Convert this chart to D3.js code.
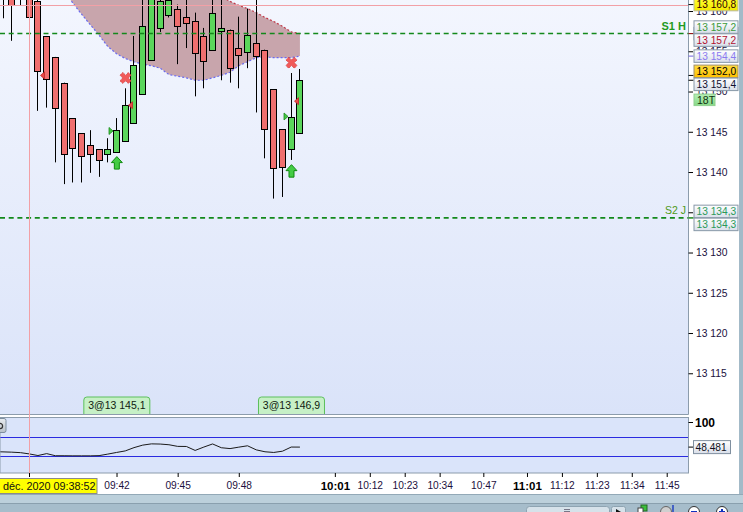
<!DOCTYPE html>
<html><head><meta charset="utf-8">
<script src="https://cdn.jsdelivr.net/npm/d3@7/dist/d3.min.js"></script>
<style>html,body{margin:0;padding:0;background:#fff;overflow:hidden}svg{display:block}</style>
</head><body>
<svg id="c" width="743" height="512"></svg>
<script>
// ---------------- DATA ----------------
const opens  = [13166.0,13164.0,13162.5,13163.0,13161.2,13156.9,13154.3,13151.1,13146.7,13144.8,13143.4,13142.8,13142.2,13142.5,13143.8,13146.1,13149.7,13153.9,13157.9,13159.5,13160.3,13159.2,13158.8,13156.9,13155.2,13157.5,13157.7,13155.4,13154.9,13156.0,13155.2,13150.3,13145.3,13142.9,13144.8];
const highs  = [13168.0,13165.5,13166.0,13164.0,13162.0,13156.9,13154.3,13151.1,13146.7,13144.8,13145.2,13142.8,13144.2,13146.7,13150.4,13156.9,13161.8,13163.5,13162.0,13162.5,13160.8,13162.0,13159.8,13157.9,13162.0,13162.0,13157.7,13159.3,13160.3,13162.0,13155.2,13150.3,13145.3,13152.3,13152.8];
const lows   = [13159.1,13156.3,13160.7,13155.7,13147.6,13148.0,13141.2,13138.5,13138.7,13138.7,13139.9,13139.4,13141.2,13142.5,13143.8,13146.1,13149.7,13153.9,13157.4,13159.2,13153.4,13155.4,13149.4,13150.4,13155.2,13151.4,13151.1,13150.4,13152.9,13147.4,13141.7,13136.7,13136.9,13141.5,13144.8];
const closes = [13163.0,13160.7,13164.5,13159.2,13152.5,13151.6,13147.9,13142.2,13143.0,13142.0,13142.3,13141.5,13142.8,13145.2,13148.3,13153.3,13158.1,13162.2,13161.2,13161.4,13158.1,13158.5,13154.8,13153.8,13159.7,13157.9,13152.9,13154.5,13157.0,13154.4,13145.3,13140.5,13140.6,13146.8,13151.4];

// cloud (from candle index 7 to 34)
const cloudStart = 7;
const cloudUpper = [13171.0,13170.5,13170.0,13169.5,13169.0,13168.5,13168.0,13167.6,13167.2,13166.8,13166.4,13165.9,13165.3,13164.7,13164.1,13163.5,13162.9,13162.3,13161.8,13161.2,13160.7,13160.3,13159.8,13159.2,13158.7,13158.1,13157.4,13157.2];
const cloudLower = [13162.4,13161.0,13159.6,13158.3,13157.0,13155.6,13154.7,13154.1,13153.7,13153.4,13153.2,13152.9,13152.1,13151.9,13151.7,13151.4,13151.4,13151.7,13152.0,13152.4,13153.2,13153.7,13154.2,13154.3,13154.2,13154.2,13154.2,13154.4];

// oscillator (from candle index -1 to 34)
const oscStart = -1;
const oscValues = [39.0,38.6,38.0,37.0,34.4,31.0,35.0,30.6,30.6,30.4,30.4,30.4,30.8,34.0,37.4,40.6,47.4,52.6,55.2,54.8,53.4,50.0,49.8,41.6,48.6,55.0,47.2,45.4,48.4,51.2,42.8,38.8,37.4,40.0,48.6,48.481];
const oscLevels = [70, 30];
const oscTop = 100;

// price axis ticks
const priceTicks = [13115,13120,13125,13130,13135,13140,13145,13150,13155,13160];

// time axis
const timeLabels = ["09:42","09:45","09:48","10:01","10:12","10:23","10:34","10:47","11:01","11:12","11:23","11:34","11:45"];
const timeSlots  = [13,20,27,38,42,46,50,55,60,64,68,72,76];
const timeBold   = ["10:01","11:01"];
const cursorSlot = 3;
const cursorText = "déc. 2020 09:38:52";
const currentPrice = 13160.8;

// support / resistance
const levelNames  = ["S1 H","S2 J"];
const levelPrices = [13157.2, 13134.3];

// right-side price labels
const labelPrices = [13160.8, 13157.2, 13157.2, 13157.2, 13154.4, 13152.0, 13151.4, 13134.3, 13134.3];
const labelKinds  = ["yellow","s1","plain","red","purple","orange","last","s2","s2"];
const timerText = "18T";

// trades
const buyIdx = [13, 33], buyPrices = [13145.1, 13146.9], buyQty = [3, 3];
const sellIdx = [4, 14, 33], sellPrices = [13152.0, 13148.3, 13148.8];
const arrowUpIdx = [13, 33];
const crossIdx = [14, 33];

// ---------------- LAYOUT ----------------
const W = 743, H = 512;
const plotR = 688.5, mainB = 414.5, indT = 417.5, indB = 473, axisB = 494, scrollX = 739;
const FONT = "'Liberation Sans', Arial, sans-serif";

const svg = d3.select('#c');
const defs = svg.append('defs');
function vgrad(id, a, b){
  const g = defs.append('linearGradient').attr('id', id).attr('x1',0).attr('y1',0).attr('x2',0).attr('y2',1);
  g.append('stop').attr('offset','0%').attr('stop-color',a);
  g.append('stop').attr('offset','100%').attr('stop-color',b);
}
vgrad('bgMain', '#f3f6fe', '#dae3f9');
vgrad('boxG', '#ffffff', '#d9dfea');
vgrad('yelG', '#ffff30', '#f4e800');
vgrad('oraG', '#ffdc40', '#ffc000');
vgrad('grnG', '#b6f0b6', '#86d886');
vgrad('btnG', '#e8ecf0', '#b8c0c8');
defs.append('clipPath').attr('id','clipMain').append('rect').attr('x',0).attr('y',0).attr('width',plotR).attr('height',mainB);
defs.append('clipPath').attr('id','clipInd').append('rect').attr('x',0).attr('y',indT).attr('width',plotR).attr('height',indB-indT);

const x = d3.scaleLinear().domain([0, 78]).range([3.0, 3.0 + 78*8.733]);
const y = d3.scaleLinear().domain([13109.94, 13161.37]).range([414, 0]);
const yi = d3.scaleLinear().domain([0, 100]).range([470.5, 422.25]);
const px = i => Math.floor(x(i)) + 0.5;

const loc = d3.formatLocale({decimal: ",", thousands: "\u00a0", grouping: [3]});
const fmt1 = loc.format(",.1f");
const fmt0 = loc.format(",.0f");
const fmt3 = loc.format(".3f");

// backgrounds
svg.append('rect').attr('width',W).attr('height',H).attr('fill','#ffffff');
svg.append('rect').attr('x',0).attr('y',0).attr('width',plotR).attr('height',mainB).attr('fill','url(#bgMain)');
svg.append('rect').attr('x',0).attr('y',indT).attr('width',plotR).attr('height',indB-indT).attr('fill','#dae4fa');

// ---------------- MAIN PANEL ----------------
const main = svg.append('g').attr('clip-path','url(#clipMain)');

// cloud
const cloudData = cloudUpper.map((u,k)=>({i: cloudStart+k, u, l: cloudLower[k]}));
main.append('path').datum(cloudData)
  .attr('d', d3.area().x(d=>x(d.i)).y0(d=>y(d.l)).y1(d=>y(d.u)))
  .attr('fill','#c8a5ac');
main.append('path').datum(cloudData)
  .attr('d', d3.line().x(d=>x(d.i)).y(d=>y(d.u)))
  .attr('fill','none').attr('stroke','#c03848').attr('stroke-width',1.2).attr('stroke-dasharray','2,2');
main.append('path').datum(cloudData)
  .attr('d', d3.line().x(d=>x(d.i)).y(d=>y(d.l)))
  .attr('fill','none').attr('stroke','#6a6af0').attr('stroke-width',1.2).attr('stroke-dasharray','2,2');

// candles
const candles = opens.map((o,i)=>({i, o, h: highs[i], l: lows[i], c: closes[i]}));
const cg = main.append('g');
cg.selectAll('line.w').data(candles).join('line')
  .attr('x1', d=>px(d.i)).attr('x2', d=>px(d.i))
  .attr('y1', d=>y(d.h)).attr('y2', d=>y(d.l))
  .attr('stroke','#000').attr('stroke-width',1);
cg.selectAll('rect.b').data(candles).join('rect')
  .attr('x', d=>px(d.i)-3).attr('width',6)
  .attr('y', d=>Math.round(y(Math.max(d.o,d.c)))+0.5)
  .attr('height', d=>Math.max(1, Math.round(y(Math.min(d.o,d.c))) - Math.round(y(Math.max(d.o,d.c)))))
  .attr('fill', d=> d.c >= d.o ? '#5bd65b' : '#ef6f6f')
  .attr('stroke','#000').attr('stroke-width',1);

// current price line
main.append('line').attr('x1',0).attr('x2',plotR).attr('y1',Math.round(y(currentPrice))+0.5).attr('y2',Math.round(y(currentPrice))+0.5)
  .attr('stroke','#f2a0a6').attr('stroke-width',1);

// support/resistance dashed lines
levelPrices.forEach((p,k)=>{
  main.append('line').attr('x1',0).attr('x2',plotR).attr('y1',y(p)).attr('y2',y(p))
    .attr('stroke','#13891b').attr('stroke-width',1.6).attr('stroke-dasharray','5,3.7');
  svg.append('text').attr('x',686).attr('y',y(p)-3.5).attr('text-anchor','end')
    .attr('font-family',FONT).attr('font-size', k===0 ? '11px' : '10.5px').attr('font-weight', k===0 ? 'bold' : 'normal')
    .attr('fill', k===0 ? '#1f9a1f' : '#4f9a18').text(levelNames[k]);
});

// trade triangles
buyIdx.forEach((i,k)=>{
  const cx = px(i), cy = y(buyPrices[k]);
  main.append('path').attr('d',`M${cx-3.5},${cy} L${cx-7.5},${cy-3.5} L${cx-7.5},${cy+3.5} Z`)
    .attr('fill','#44c844').attr('stroke','#1a8a1a').attr('stroke-width',0.8);
});
sellIdx.forEach((i,k)=>{
  const cx = px(i), cy = y(sellPrices[k]);
  main.append('path').attr('d',`M${cx+3},${cy} L${cx+7},${cy-3.5} L${cx+7},${cy+3.5} Z`)
    .attr('fill','#e84848').attr('stroke','#c02828').attr('stroke-width',0.8);
});

// red crosses above highs
crossIdx.forEach(i=>{
  main.append('path').attr('d', d3.symbol(d3.symbolCross, 78)())
    .attr('transform',`translate(${x(i)+0.3},${y(highs[i])-10.3}) rotate(45)`)
    .attr('fill','#f05a5a').attr('stroke','#d23a3a').attr('stroke-width',0.8).attr('stroke-dasharray','1.2,0.8');
});

// green arrows below lows
arrowUpIdx.forEach(i=>{
  const cx = x(i)+0.3, t = y(lows[i]) + 4.7;
  main.append('path')
    .attr('d',`M${cx},${t} L${cx+5.5},${t+6} L${cx+2.5},${t+6} L${cx+2.5},${t+12.5} L${cx-2.5},${t+12.5} L${cx-2.5},${t+6} L${cx-5.5},${t+6} Z`)
    .attr('fill','#44cc44').attr('stroke','#0f8a0f').attr('stroke-width',1);
});

// fill labels at the bottom of the main panel
buyIdx.forEach((i,k)=>{
  const cx = x(i)+0.3, w = 66, top = 397, bot = mainB;
  main.append('path')
    .attr('d',`M${cx-w/2},${bot} L${cx-w/2},${top+3} Q${cx-w/2},${top} ${cx-w/2+3},${top} L${cx+w/2-3},${top} Q${cx+w/2},${top} ${cx+w/2},${top+3} L${cx+w/2},${bot}`)
    .attr('fill','#c6f0c6').attr('stroke','#5cbf5c').attr('stroke-width',1);
  main.append('text').attr('x',cx).attr('y',top+12).attr('text-anchor','middle')
    .attr('font-family',FONT).attr('font-size','10.5px').attr('fill','#102010')
    .text(buyQty[k] + '@' + fmt1(buyPrices[k]));
});

// main panel borders
svg.append('line').attr('x1',0).attr('x2',plotR).attr('y1',mainB).attr('y2',mainB).attr('stroke','#8c9cac');
svg.append('line').attr('x1',plotR).attr('x2',plotR).attr('y1',0).attr('y2',mainB).attr('stroke','#8c9cac');

// ---------------- INDICATOR PANEL ----------------
const ind = svg.append('g').attr('clip-path','url(#clipInd)');
oscLevels.forEach(v=>{
  ind.append('line').attr('x1',0).attr('x2',plotR).attr('y1',Math.round(yi(v))+0.5).attr('y2',Math.round(yi(v))+0.5)
    .attr('stroke','#2a2ae0').attr('stroke-width',1);
});
ind.append('path').datum(oscValues.map((v,k)=>({i: oscStart+k, v})))
  .attr('d', d3.line().x(d=>x(d.i)).y(d=>yi(d.v)))
  .attr('fill','none').attr('stroke','#1a1a1a').attr('stroke-width',1);
svg.append('rect').attr('x',0).attr('y',indT).attr('width',plotR).attr('height',indB-indT)
  .attr('fill','none').attr('stroke','#8c9cac');
// small button (icon)
svg.append('rect').attr('x',-8).attr('y',418.5).attr('width',14).attr('height',14).attr('rx',2)
  .attr('fill','url(#btnG)').attr('stroke','#7f8f9f');
svg.append('circle').attr('cx',0).attr('cy',426).attr('r',2.6).attr('fill','none').attr('stroke','#333').attr('stroke-width',1.2);

// indicator axis
svg.append('line').attr('x1',plotR).attr('x2',plotR+4.5).attr('y1',Math.round(yi(oscTop))+0.5).attr('y2',Math.round(yi(oscTop))+0.5).attr('stroke','#000');
svg.append('text').attr('x',695).attr('y',yi(oscTop)+4.5).attr('font-family',FONT).attr('font-size','12px')
  .attr('font-weight','bold').attr('fill','#000').text(String(oscTop));
const lastOsc = oscValues[oscValues.length-1];
svg.append('line').attr('x1',plotR).attr('x2',plotR+4.5).attr('y1',yi(lastOsc)).attr('y2',yi(lastOsc)).attr('stroke','#000');
svg.append('rect').attr('x',693.5).attr('y',yi(lastOsc)-6.5).attr('width',37).attr('height',13)
  .attr('fill','url(#boxG)').attr('stroke','#7f8f9f');
svg.append('text').attr('x',695.5).attr('y',yi(lastOsc)+3.7).attr('font-family',FONT).attr('font-size','10.2px')
  .attr('fill','#101020').text(fmt3(lastOsc));

// ---------------- RIGHT LABEL LAYOUT ----------------
const kindStyle = {
  yellow: {fill:'url(#yelG)', stroke:'#b8b8a0', text:'#300000', tick:'#000'},
  s1:     {fill:'url(#boxG)', stroke:'#8898a8', text:'#3a9a3a', tick:'#1a8a1a'},
  plain:  {fill:'url(#boxG)', stroke:'#8898a8', text:'#3a9a3a', tick:'#1a8a1a'},
  red:    {fill:'url(#boxG)', stroke:'#8898a8', text:'#b01030', tick:'#a01020'},
  purple: {fill:'url(#boxG)', stroke:'#8898a8', text:'#8a7af0', tick:'#7060e0'},
  orange: {fill:'url(#oraG)', stroke:'#a09070', text:'#000000', tick:'#000'},
  last:   {fill:'url(#boxG)', stroke:'#8898a8', text:'#101030', tick:'#000'},
  s2:     {fill:'url(#boxG)', stroke:'#8898a8', text:'#2a9a5a', tick:'#1a8a1a'}
};
const labs = labelPrices.map((p,k)=>({p, kind: labelKinds[k], y0: y(p), y: y(p), k}));
const sorted = labs.filter(d=>d.kind!=='plain').sort((a,b)=> a.y0 - b.y0 || a.k - b.k);
const GAP = 13;
for (let it=0; it<200; it++){
  for (let j=0; j<sorted.length-1; j++){
    const a = sorted[j], b = sorted[j+1];
    const d = b.y - a.y;
    if (d < GAP){ const o = (GAP-d)/2; a.y -= o; b.y += o; }
  }
}
const BH = 12.5;

// ---------------- PRICE AXIS ----------------
// tick texts fully hidden behind a label box are not drawn
const covered = v => sorted.some(d => Math.abs(d.y - y(v)) < 4.5);
const ax = svg.append('g').attr('transform',`translate(${plotR},0)`)
  .call(d3.axisRight(y).tickValues(priceTicks).tickSize(4.5).tickPadding(3).tickFormat(d=>fmt0(d)));
ax.select('.domain').remove();
ax.selectAll('text').attr('font-family',FONT).attr('font-size','10.3px').attr('fill','#201040');
ax.selectAll('.tick').filter(d=>covered(d)).select('text').remove();
ax.selectAll('line').attr('stroke','#000');

labs.forEach(d=>{
  svg.append('line').attr('x1',plotR).attr('x2',plotR+5).attr('y1',d.y0).attr('y2',d.y0)
    .attr('stroke', kindStyle[d.kind].tick).attr('stroke-width',1);
});
const drawOrder = labs.slice().sort((a,b)=> (a.kind==='plain'?0:1) - (b.kind==='plain'?0:1) || a.k - b.k);
drawOrder.forEach(d=>{
  const s = kindStyle[d.kind];
  svg.append('rect').attr('x',694).attr('y',d.y-BH/2).attr('width',44).attr('height',BH)
    .attr('fill',s.fill).attr('stroke',s.stroke).attr('stroke-width',1);
  svg.append('text').attr('x',696.5).attr('y',d.y+3.7).attr('font-family',FONT).attr('font-size','10.2px')
    .attr('fill',s.text).text(fmt1(d.p));
});
// timer box under last price label
const lastLab = labs.find(d=>d.kind==='last');
svg.append('rect').attr('x',694).attr('y',lastLab.y+BH/2+3.5).attr('width',21).attr('height',11.5)
  .attr('fill','url(#grnG)').attr('stroke','#90d090');
svg.append('text').attr('x',697).attr('y',lastLab.y+BH/2+13.2).attr('font-family',FONT).attr('font-size','10.5px')
  .attr('fill','#103010').text(timerText);

// ---------------- TIME AXIS ----------------
const tx = svg.append('g').attr('transform',`translate(0,${indB})`)
  .call(d3.axisBottom(x).tickValues(timeSlots).tickSize(4).tickPadding(5).tickFormat((d,k)=>timeLabels[k]));
tx.select('.domain').remove();
tx.selectAll('line').attr('stroke','#000');
tx.selectAll('text').attr('font-family',FONT)
  .attr('font-size', (d,k)=> timeBold.includes(timeLabels[k]) ? '11.5px' : '10.2px')
  .attr('font-weight', (d,k)=> timeBold.includes(timeLabels[k]) ? 'bold' : 'normal')
  .attr('fill', (d,k)=> timeBold.includes(timeLabels[k]) ? '#000' : '#1c1040');

// cursor
const cx0 = px(cursorSlot);
svg.append('line').attr('x1',cx0).attr('x2',cx0).attr('y1',0).attr('y2',indB).attr('stroke','#f2a0a6').attr('stroke-width',1);
svg.append('line').attr('x1',cx0).attr('x2',cx0).attr('y1',indB).attr('y2',indB+4).attr('stroke','#000');
svg.append('rect').attr('x',-5).attr('y',478.5).attr('width',102).attr('height',15).attr('fill','#ffff00').attr('stroke','#8a8a8a');
svg.append('text').attr('x',3).attr('y',490).attr('font-family',FONT).attr('font-size','10.8px').attr('fill','#101010').text(cursorText);

// ---------------- CHROME ----------------
svg.append('rect').attr('x',scrollX).attr('y',0).attr('width',W-scrollX).attr('height',axisB).attr('fill','#a3bac8');
svg.append('rect').attr('x',0).attr('y',axisB).attr('width',W).attr('height',9).attr('fill','#bcd0db');
svg.append('rect').attr('x',0).attr('y',axisB+9).attr('width',W).attr('height',H-axisB-9).attr('fill','#a6bdcb');
svg.append('line').attr('x1',0).attr('x2',W).attr('y1',axisB+0.5).attr('y2',axisB+0.5).attr('stroke','#93a9b7');
svg.append('line').attr('x1',0).attr('x2',W).attr('y1',axisB+9.5).attr('y2',axisB+9.5).attr('stroke','#8aa0ae');
// bottom controls
svg.append('rect').attr('x',526.5).attr('y',506.5).attr('width',83).attr('height',10).attr('rx',3).attr('fill','#d6e2ea').attr('stroke','#8ea4b2');
svg.append('line').attr('x1',564).attr('x2',570).attr('y1',509.5).attr('y2',509.5).attr('stroke','#778');
svg.append('line').attr('x1',564).attr('x2',570).attr('y1',511.5).attr('y2',511.5).attr('stroke','#778');
svg.append('rect').attr('x',611.5).attr('y',506.5).attr('width',14).attr('height',10).attr('rx',2).attr('fill','#d6e2ea').attr('stroke','#8ea4b2');
svg.append('path').attr('d','M616,509 L621,512 L616,515 Z').attr('fill','#111');
svg.append('rect').attr('x',641).attr('y',505).attr('width',6).attr('height',6).attr('fill','#3cc03c').attr('stroke','#226622');
svg.append('rect').attr('x',638).attr('y',508).attr('width',5).attr('height',5).attr('fill','#fff').attr('stroke','#444');
svg.append('circle').attr('cx',666).attr('cy',512).attr('r',5.5).attr('fill','#cfcfcf').attr('stroke','#666');
svg.append('line').attr('x1',673).attr('x2',673).attr('y1',505).attr('y2',512).attr('stroke','#1030c0').attr('stroke-width',1.3);
svg.append('circle').attr('cx',694).attr('cy',512).attr('r',5.5).attr('fill','#fff').attr('stroke','#333');
svg.append('line').attr('x1',691).attr('x2',697).attr('y1',512).attr('y2',512).attr('stroke','#1030c0').attr('stroke-width',2);
svg.append('circle').attr('cx',722).attr('cy',512).attr('r',5.5).attr('fill','#fff').attr('stroke','#333');
svg.append('line').attr('x1',719).attr('x2',725).attr('y1',512).attr('y2',512).attr('stroke','#1030c0').attr('stroke-width',2);
svg.append('line').attr('x1',722).attr('x2',722).attr('y1',509).attr('y2',515).attr('stroke','#1030c0').attr('stroke-width',2);
</script>
</body></html>
